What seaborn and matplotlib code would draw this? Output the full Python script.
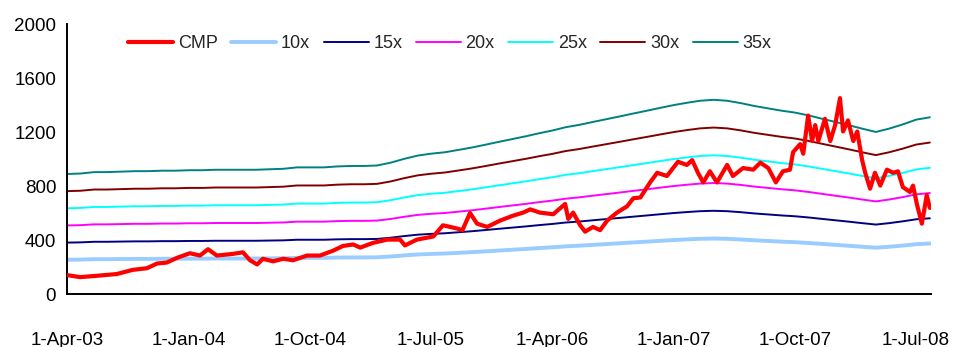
import matplotlib
matplotlib.use("Agg")
import matplotlib.pyplot as plt
import seaborn as sns
import pandas as pd

# ---- data ----
eps_months = pd.date_range("2003-04-01", "2008-07-01", freq="MS").tolist() + [pd.Timestamp("2008-08-01")]
eps_values = [
    25.4, 25.5, 25.8, 25.8, 25.9, 26.0, 26.0, 26.1, 26.1,          # Apr-Dec 03
    26.2, 26.2, 26.3, 26.3, 26.3, 26.3, 26.4, 26.5, 26.8, 26.8, 26.8, 27.0,  # 04
    27.1, 27.1, 27.2, 27.8, 28.6, 29.3, 29.7, 30.0, 30.5, 31.0, 31.6, 32.2,  # 05
    32.8, 33.4, 34.0, 34.6, 35.3, 35.8, 36.4, 37.0, 37.6, 38.2, 38.8, 39.4,  # 06
    40.0, 40.5, 40.9, 41.1, 40.9, 40.4, 39.8, 39.3, 38.8, 38.4, 37.8, 37.1,  # 07
    36.4, 35.7, 35.0, 34.3, 35.0, 35.9, 36.9, 37.4,                          # 08
]
multiples = [10, 15, 20, 25, 30, 35]
band_labels = ["10x", "15x", "20x", "25x", "30x", "35x"]
band_colors = ["#99CCFF", "#000080", "#FF00FF", "#00FFFF", "#800000", "#008080"]

cmp_dates = [
    "2003-04-03", "2003-04-30", "2003-06-14", "2003-07-22", "2003-08-27", "2003-09-28",
    "2003-10-21", "2003-11-12", "2003-12-05", "2004-01-03", "2004-01-26", "2004-02-13",
    "2004-03-04", "2004-04-09", "2004-05-02", "2004-05-18", "2004-06-03", "2004-06-16",
    "2004-07-09", "2004-08-01", "2004-08-23", "2004-09-24", "2004-10-23", "2004-11-21",
    "2004-12-14", "2005-01-06", "2005-01-22", "2005-02-20", "2005-03-24", "2005-04-22",
    "2005-05-03", "2005-05-30", "2005-07-06", "2005-07-28", "2005-08-13", "2005-08-29",
    "2005-09-10", "2005-09-27", "2005-10-13", "2005-11-05", "2005-12-04", "2006-01-02",
    "2006-01-25", "2006-02-10", "2006-03-04", "2006-04-03", "2006-04-30", "2006-05-07",
    "2006-05-18", "2006-06-03", "2006-06-14", "2006-07-02", "2006-07-18", "2006-08-03",
    "2006-08-25", "2006-09-17", "2006-10-01", "2006-10-17", "2006-11-08", "2006-11-24",
    "2006-12-16", "2007-01-10", "2007-01-30", "2007-02-11", "2007-02-24", "2007-03-08",
    "2007-03-23", "2007-04-08", "2007-05-01", "2007-05-14", "2007-06-06", "2007-06-29",
    "2007-07-15", "2007-08-02", "2007-08-19", "2007-09-04", "2007-09-20", "2007-09-27",
    "2007-10-13", "2007-10-20", "2007-10-31", "2007-11-09", "2007-11-16", "2007-11-23",
    "2007-12-08", "2007-12-20", "2007-12-31", "2008-01-11", "2008-01-18", "2008-01-29",
    "2008-02-10", "2008-02-19", "2008-03-01", "2008-03-08", "2008-03-19", "2008-03-30",
    "2008-04-11", "2008-04-26", "2008-05-10", "2008-05-21", "2008-06-01", "2008-06-17",
    "2008-06-24", "2008-07-03", "2008-07-14", "2008-07-19", "2008-07-25", "2008-08-01",
]
cmp_values = [
    139, 125, 137, 148, 179, 191,
    226, 233, 268, 302, 285, 332,
    285, 297, 309, 250, 219, 261,
    242, 261, 250, 285, 285, 320,
    356, 367, 344, 379, 403, 403,
    360, 403, 426, 509, 497, 485,
    473, 600, 521, 497, 544, 580,
    603, 627, 603, 591, 667, 556,
    603, 509, 462, 497, 473, 544,
    603, 650, 709, 715, 827, 898,
    874, 980, 956, 992, 898, 827,
    909, 827, 956, 874, 933, 921,
    973, 933, 827, 909, 921, 1051,
    1110, 1039, 1322, 1133, 1251, 1133,
    1298, 1133, 1251, 1451, 1204, 1286,
    1133, 1204, 992, 898, 780, 898,
    803, 921, 898, 909, 792, 756,
    803, 662, 521, 615, 733, 638,
]

xtick_dates = ["2003-04-01", "2004-01-01", "2004-10-01", "2005-07-01",
               "2006-04-01", "2007-01-01", "2007-10-01", "2008-07-01"]
xtick_labels = ["1-Apr-03", "1-Jan-04", "1-Oct-04", "1-Jul-05",
                "1-Apr-06", "1-Jan-07", "1-Oct-07", "1-Jul-08"]
yticks = [0, 400, 800, 1200, 1600, 2000]

# ---- build tables ----
eps = pd.Series(eps_values, index=pd.to_datetime(eps_months))
band_df = pd.concat(
    [pd.DataFrame({"date": eps.index, "value": eps.values * m, "band": lab})
     for m, lab in zip(multiples, band_labels)],
    ignore_index=True)
cmp_df = pd.DataFrame({"date": pd.to_datetime(cmp_dates), "value": cmp_values})

# ---- plot ----
sns.set_style("white")
plt.rcParams["font.family"] = ["Liberation Sans", "DejaVu Sans"]
fig = plt.figure(figsize=(9.54, 3.47), dpi=100)
ax = fig.add_axes([0.0705, 0.1527, 0.9051, 0.7781])

handles = []
for lab, col in zip(band_labels, band_colors):
    lw = 2.8 if lab == "10x" else 1.4
    sns.lineplot(data=band_df[band_df["band"] == lab], x="date", y="value",
                 color=col, linewidth=lw, ax=ax, zorder=2)
    handles.append(plt.Line2D([], [], color=col, linewidth=lw, label=lab))

sns.lineplot(data=cmp_df, x="date", y="value", color="#FF0000", linewidth=3.0,
             ax=ax, zorder=3)
cmp_handle = plt.Line2D([], [], color="#FF0000", linewidth=3.0, label="CMP")

ax.set_xlim(pd.Timestamp("2003-04-01"), pd.Timestamp("2008-08-03"))
ax.set_ylim(0, 2000)
ax.set_xticks(pd.to_datetime(xtick_dates))
ax.set_xticklabels(xtick_labels)
ax.set_yticks(yticks)
ax.set_xlabel("")
ax.set_ylabel("")
ax.tick_params(axis="both", labelsize=13.5, colors="black", length=4, width=1.2,
               direction="out")
ax.tick_params(axis="y", pad=4)
ax.tick_params(axis="x", pad=23)
for s in ["top", "right"]:
    ax.spines[s].set_visible(False)
for s in ["left", "bottom"]:
    ax.spines[s].set_color("black")
    ax.spines[s].set_linewidth(1.4)

leg = ax.legend(handles=[cmp_handle] + handles, loc="upper left",
                bbox_to_anchor=(0.058, 1.0), ncol=7, frameon=False,
                fontsize=13, handlelength=2.5, handletextpad=0.25,
                columnspacing=0.75, borderaxespad=0.2)

fig.savefig("out.png", dpi=100)
